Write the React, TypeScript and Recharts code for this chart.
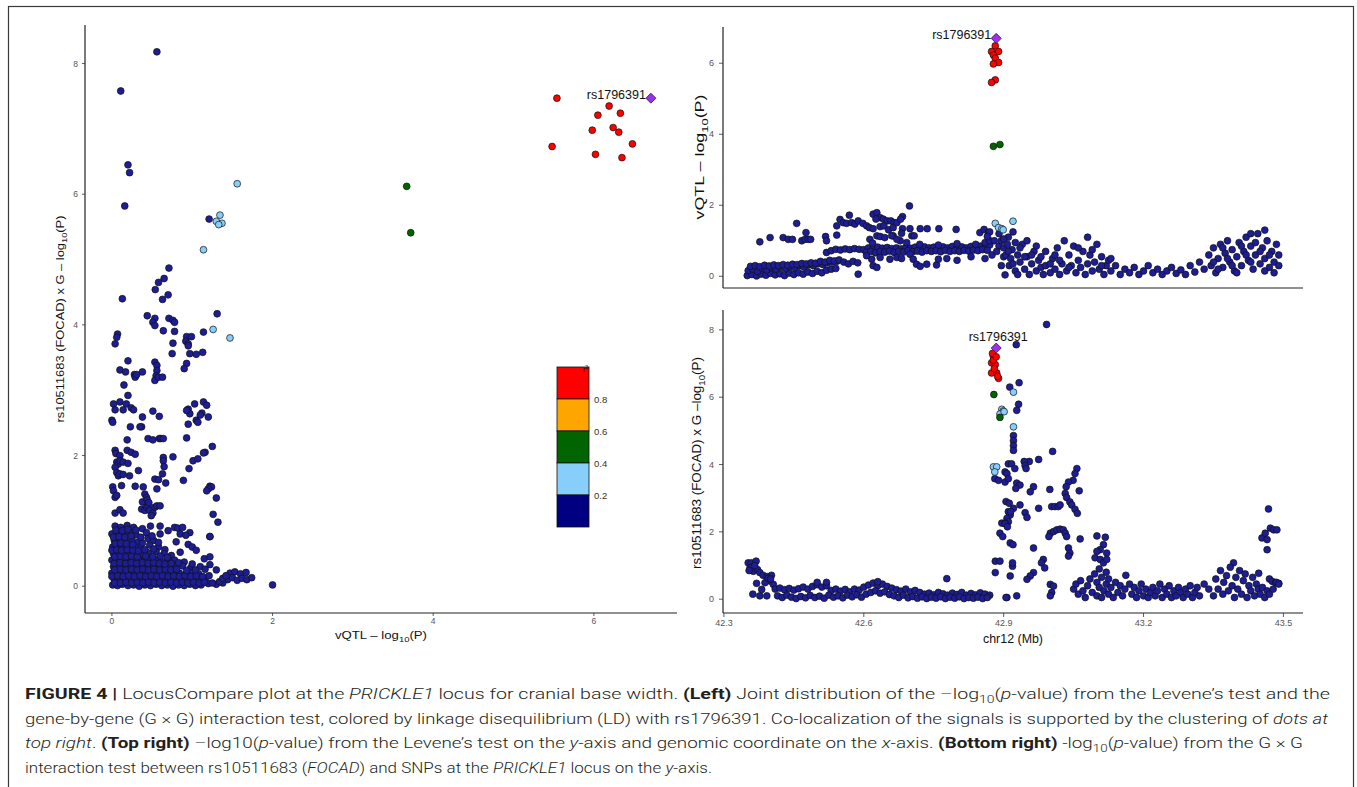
import React from 'react';
import { ScatterChart, Scatter, XAxis, YAxis } from 'recharts';

type P = [number, number];

// ---------- colours / legend ----------
const LD_COLORS = ['#000080', '#87CEFA', '#006400', '#FFA500', '#FF0000'];
const LD_LABELS = ['0.8', '0.6', '0.4', '0.2'];
const LEAD_COLOR = '#9B30F0';
const LEAD_NAME = 'rs1796391';

// ---------- left panel (x: vQTL -log10P, y: GxG -log10P) ----------
const LEFT_X_TICKS = [0, 2, 4, 6];
const LEFT_Y_TICKS = [0, 2, 4, 6, 8];
const LEFT_LEAD: P[] = [[6.71, 7.47]];
const LEFT_RED: P[] = [[5.54, 7.47], [6.19, 7.35], [6.33, 7.24], [6.05, 7.21], [5.98, 6.98], [6.24, 7.02], [6.31, 6.95], [6.48, 6.77], [5.48, 6.73], [6.02, 6.61], [6.35, 6.56]];
const LEFT_GREEN: P[] = [[3.67, 6.12], [3.72, 5.41]];
const LEFT_LIGHTBLUE: P[] = [[1.56, 6.16], [1.345, 5.68], [1.3, 5.585], [1.37, 5.555], [1.33, 5.535], [1.14, 5.15], [1.26, 3.93], [1.47, 3.8]];
const LEFT_BLUE: P[] = [
  [0.56, 8.18], [0.11, 7.58], [0.2, 6.45], [0.22, 6.33], [0.16, 5.82], [1.21, 5.62], [0.71, 4.87], [0.65, 4.71], [0.58, 4.65], [0.54, 4.54], [0.7, 4.46], [0.63, 4.39], [0.13, 4.4], [1.31, 4.17], [0.44, 4.14], [0.535, 4.1], [0.71, 4.1], [0.76, 4.07],
  [0.51, 4.04], [0.535, 3.99], [0.64, 3.91], [0.78, 4.04], [0.78, 3.9], [0.93, 3.82], [0.99, 3.82], [1.14, 3.89], [0.92, 3.75], [0.95, 3.71], [0.76, 3.72], [0.75, 3.56], [0.97, 3.56], [1.05, 3.55], [1.13, 3.58], [0.95, 3.68], [0.93, 3.41], [0.9, 3.33], [0.07, 3.86], [0.06, 3.81], [0.04, 3.71], [0.2, 3.45], [0.1, 3.31], [0.17, 3.28], [0.28, 3.24], [0.29, 3.2], [0.31, 3.24], [0.38, 3.28], [0.535, 3.43], [0.56, 3.38], [0.56, 3.3], [0.55, 3.22], [0.535, 3.15], [0.58, 3.2], [0.63, 3.2], [0.15, 3.08], [0.2, 2.92],
  [0.02, 2.79], [0.04, 2.7], [0.1, 2.82], [0.18, 2.79], [0.24, 2.73], [0.27, 2.7], [0.14, 2.7], [0.38, 2.59], [0.37, 2.44], [0.35, 2.44], [0.23, 2.44], [0.0, 2.54], [0.01, 2.51], [0.51, 2.68], [0.59, 2.6], [0.95, 2.71], [0.97, 2.64], [0.93, 2.69], [1.03, 2.79], [1.14, 2.82], [1.18, 2.77], [1.12, 2.65], [1.05, 2.54], [1.07, 2.51], [1.2, 2.59], [0.95, 2.48], [1.1, 2.62],
  [0.45, 2.26], [0.51, 2.24], [0.59, 2.26], [0.61, 2.26], [0.64, 2.26], [0.93, 2.27], [1.25, 2.14], [1.16, 2.05], [1.14, 2.04], [0.19, 2.24],
  [0.04, 2.08], [0.05, 2.03], [0.1, 2.0], [0.06, 1.9], [0.08, 1.87], [0.1, 1.92], [0.14, 1.9], [0.2, 1.88], [0.19, 2.08], [0.24, 2.05], [0.29, 2.02], [0.33, 1.77], [0.22, 1.69], [0.04, 1.82], [0.06, 1.74], [0.08, 1.69], [0.1, 1.72], [0.64, 1.97], [0.64, 1.92], [0.65, 1.83], [0.63, 1.72], [0.76, 1.98], [1.01, 1.92], [1.07, 1.95], [0.96, 1.8], [0.89, 1.62], [0.535, 1.64], [0.67, 1.58], [0.56, 1.49], [0.58, 1.63],
  [0.01, 1.52], [0.02, 1.46], [0.04, 1.36], [0.06, 1.39], [0.12, 1.54], [0.14, 1.71], [0.29, 1.53], [0.39, 1.52], [0.41, 1.41], [0.43, 1.36], [0.38, 1.29], [0.37, 1.18], [0.41, 1.16], [0.43, 1.21], [0.45, 1.23], [0.47, 1.16], [0.51, 1.12], [0.49, 1.08], [0.535, 1.21], [0.56, 1.23], [0.6, 1.23], [1.22, 1.53], [1.24, 1.52], [1.2, 1.49], [1.18, 1.46], [1.3, 1.35], [1.26, 1.1], [1.32, 0.98], [1.22, 0.76], [0.04, 1.12], [0.1, 1.17], [0.14, 1.12], [0.44, 1.32], [0.46, 1.28],
  [0.04, 0.92], [0.11, 0.9], [0.19, 0.93], [0.27, 0.9], [0.38, 0.88], [0.48, 0.92], [0.78, 0.9], [0.82, 0.89], [0.88, 0.9], [0.97, 0.82], [0.6, 0.92],
  [0.0, 0.8], [0.07, 0.81], [0.14, 0.79], [0.22, 0.82], [0.3, 0.79], [0.43, 0.82], [0.6, 0.8], [0.7, 0.85], [0.85, 0.8], [0.92, 0.78], [1.22, 0.76],
  [0.03, 0.7], [0.1, 0.71], [0.17, 0.69], [0.25, 0.72], [0.33, 0.68], [0.45, 0.73], [0.52, 0.7], [0.8, 0.68], [0.95, 0.64],
  [0.01, 0.6], [0.08, 0.61], [0.15, 0.59], [0.22, 0.62], [0.29, 0.6], [0.36, 0.58], [0.47, 0.63], [0.58, 0.6], [0.66, 0.56], [1.0, 0.6], [1.05, 0.55],
  [0.02, 0.5], [0.09, 0.51], [0.16, 0.49], [0.23, 0.52], [0.3, 0.5], [0.38, 0.48], [0.46, 0.51], [0.55, 0.53], [0.65, 0.5], [0.74, 0.47], [0.85, 0.52],
  [0.0, 0.4], [0.06, 0.41], [0.13, 0.39], [0.2, 0.42], [0.27, 0.4], [0.34, 0.41], [0.41, 0.39], [0.48, 0.42], [0.55, 0.4], [0.62, 0.38], [0.7, 0.41], [0.78, 0.4], [0.9, 0.37], [1.15, 0.42], [1.22, 0.45],
  [0.02, 0.3], [0.09, 0.31], [0.16, 0.29], [0.23, 0.32], [0.3, 0.3], [0.37, 0.31], [0.44, 0.29], [0.51, 0.32], [0.58, 0.3], [0.65, 0.31], [0.72, 0.29], [0.79, 0.3], [0.88, 0.31], [0.98, 0.28], [1.1, 0.3], [1.22, 0.33], [1.3, 0.25],
  [0.0, 0.2], [0.07, 0.21], [0.14, 0.19], [0.21, 0.22], [0.28, 0.2], [0.35, 0.21], [0.42, 0.19], [0.49, 0.22], [0.56, 0.2], [0.63, 0.21], [0.7, 0.19], [0.77, 0.22], [0.84, 0.2], [0.92, 0.18], [1.0, 0.21], [1.08, 0.19], [1.47, 0.2], [1.53, 0.22], [1.6, 0.19], [1.67, 0.21],
  [0.03, 0.1], [0.1, 0.11], [0.17, 0.09], [0.24, 0.12], [0.31, 0.1], [0.38, 0.11], [0.45, 0.09], [0.52, 0.12], [0.59, 0.1], [0.66, 0.11], [0.73, 0.09], [0.8, 0.12], [0.87, 0.1], [0.94, 0.11], [1.01, 0.09], [1.09, 0.12], [1.16, 0.1], [1.44, 0.1], [1.5, 0.13], [1.56, 0.09], [1.62, 0.12], [1.68, 0.1], [1.74, 0.13],
  [0.01, 0.02], [0.07, 0.01], [0.13, 0.03], [0.2, 0.01], [0.27, 0.02], [0.34, 0.0], [0.41, 0.02], [0.48, 0.01], [0.55, 0.03], [0.62, 0.01], [0.69, 0.02], [0.76, 0.0], [0.83, 0.02], [0.9, 0.01], [0.97, 0.03], [1.04, 0.01], [1.11, 0.02], [1.2, 0.04], [1.3, 0.03], [1.38, 0.05], [2.0, 0.02],
];
// second layer of the dense clump near the origin
const LEFT_BLUE_DENSE: P[] = [
  [0.035, 0.05], [0.105, 0.05], [0.175, 0.06], [0.245, 0.05], [0.315, 0.06], [0.385, 0.05], [0.455, 0.06], [0.525, 0.05], [0.595, 0.06], [0.665, 0.05], [0.735, 0.06], [0.805, 0.05], [0.875, 0.06], [0.945, 0.05], [1.015, 0.06], [1.085, 0.05], [1.15, 0.06], [1.25, 0.05], [1.34, 0.07],
  [0.0, 0.15], [0.07, 0.16], [0.14, 0.15], [0.21, 0.16], [0.28, 0.15], [0.35, 0.16], [0.42, 0.15], [0.49, 0.16], [0.56, 0.15], [0.63, 0.16], [0.7, 0.15], [0.77, 0.16], [0.84, 0.15], [0.91, 0.16], [0.98, 0.15], [1.05, 0.16], [1.13, 0.15], [1.21, 0.16], [1.38, 0.12], [1.42, 0.16],
  [0.035, 0.25], [0.105, 0.26], [0.175, 0.25], [0.245, 0.26], [0.315, 0.25], [0.385, 0.26], [0.455, 0.25], [0.525, 0.26], [0.595, 0.25], [0.665, 0.26], [0.735, 0.25], [0.805, 0.26], [0.93, 0.24], [1.04, 0.25], [1.16, 0.26],
  [0.03, 0.35], [0.1, 0.36], [0.17, 0.35], [0.24, 0.36], [0.31, 0.35], [0.38, 0.36], [0.45, 0.35], [0.52, 0.36], [0.59, 0.35], [0.66, 0.34], [0.74, 0.35], [0.83, 0.36], [1.0, 0.34],
  [0.035, 0.45], [0.105, 0.46], [0.175, 0.45], [0.245, 0.46], [0.315, 0.45], [0.42, 0.46], [0.51, 0.45], [0.6, 0.46], [0.69, 0.44],
  [0.0, 0.55], [0.06, 0.56], [0.12, 0.55], [0.19, 0.56], [0.26, 0.55], [0.33, 0.54], [0.41, 0.56], [0.52, 0.57],
  [0.04, 0.65], [0.11, 0.66], [0.18, 0.65], [0.26, 0.64], [0.38, 0.66], [0.58, 0.67],
  [0.02, 0.75], [0.09, 0.76], [0.16, 0.75], [0.24, 0.77], [0.36, 0.75], [0.5, 0.77],
  [0.05, 0.86], [0.13, 0.85], [0.2, 0.87], [0.3, 0.86],
];

// ---------- top right (x: position Mb, y: vQTL -log10P) ----------
const POS_TICKS = [42.3, 42.6, 42.9, 43.2, 43.5];
const TOP_Y_TICKS = [0, 2, 4, 6];
const TOP_LEAD: P[] = [[42.884, 6.7]];
const TOP_RED: P[] = [[42.882, 6.49], [42.889, 6.33], [42.874, 6.33], [42.878, 6.23], [42.882, 6.14], [42.889, 6.02], [42.878, 5.98], [42.882, 5.53], [42.874, 5.46]];
const TOP_GREEN: P[] = [[42.878, 3.66], [42.892, 3.71]];
const TOP_LIGHTBLUE: P[] = [[42.882, 1.49], [42.889, 1.37], [42.896, 1.34], [42.899, 1.31], [42.92, 1.55]];
const TOP_BLUE: P[] = [
  [42.35, 0.02], [42.36, 0.05], [42.37, 0.01], [42.38, 0.06], [42.39, 0.03], [42.4, 0.08], [42.41, 0.04], [42.42, 0.07], [42.43, 0.02], [42.44, 0.09], [42.45, 0.05], [42.46, 0.1], [42.47, 0.06], [42.48, 0.12], [42.49, 0.08], [42.5, 0.14], [42.51, 0.1], [42.52, 0.17], [42.53, 0.2], [42.54, 0.22],
  [42.352, 0.16], [42.362, 0.2], [42.372, 0.14], [42.382, 0.22], [42.392, 0.18], [42.402, 0.24], [42.412, 0.2], [42.422, 0.26], [42.432, 0.21], [42.442, 0.27], [42.452, 0.24], [42.462, 0.3], [42.472, 0.26], [42.482, 0.32], [42.492, 0.3], [42.502, 0.35], [42.512, 0.33], [42.522, 0.38], [42.532, 0.4], [42.542, 0.42],
  [42.357, 0.28], [42.367, 0.3], [42.377, 0.27], [42.387, 0.31], [42.397, 0.29], [42.407, 0.32], [42.417, 0.3], [42.427, 0.33], [42.437, 0.31], [42.447, 0.34], [42.457, 0.33], [42.467, 0.36], [42.477, 0.35], [42.487, 0.38], [42.497, 0.37], [42.507, 0.42], [42.517, 0.4], [42.527, 0.45], [42.537, 0.43], [42.547, 0.46], [42.557, 0.4], [42.567, 0.35], [42.577, 0.42], [42.587, 0.38],
  [42.52, 0.67], [42.53, 0.72], [42.54, 0.76], [42.55, 0.74], [42.56, 0.77], [42.57, 0.75], [42.58, 0.78], [42.59, 0.76], [42.6, 0.75], [42.61, 0.8], [42.62, 0.78], [42.63, 0.82], [42.64, 0.79], [42.65, 0.81], [42.66, 0.78], [42.67, 0.8], [42.68, 0.77], [42.69, 0.81], [42.7, 0.79], [42.71, 0.82], [42.72, 0.8], [42.73, 0.83], [42.74, 0.8], [42.75, 0.82], [42.76, 0.79], [42.77, 0.83], [42.78, 0.8], [42.79, 0.84], [42.8, 0.81], [42.81, 0.83], [42.82, 0.8], [42.83, 0.84], [42.84, 0.82], [42.85, 0.85], [42.86, 0.83], [42.87, 0.88],
  [42.605, 0.68], [42.615, 0.7], [42.625, 0.66], [42.635, 0.7], [42.645, 0.68], [42.655, 0.71], [42.665, 0.67], [42.675, 0.7], [42.685, 0.68], [42.695, 0.72], [42.705, 0.69], [42.715, 0.71], [42.725, 0.68], [42.735, 0.72], [42.745, 0.7], [42.755, 0.72], [42.765, 0.69], [42.775, 0.73], [42.785, 0.7], [42.795, 0.72], [42.805, 0.7], [42.815, 0.73], [42.825, 0.71], [42.835, 0.74], [42.845, 0.72], [42.855, 0.75], [42.865, 0.73],
  [42.72, 0.9], [42.76, 0.88], [42.8, 0.92], [42.84, 0.9], [42.86, 0.95], [42.87, 1.0],
  [42.617, 0.48], [42.606, 0.58], [42.635, 0.53], [42.656, 0.48], [42.671, 0.53], [42.681, 0.5], [42.699, 0.62], [42.706, 0.48], [42.713, 0.34], [42.721, 0.28], [42.735, 0.34], [42.756, 0.32], [42.778, 0.5], [42.76, 0.48], [42.62, 0.3], [42.628, 0.25], [42.588, 0.06], [42.8, 0.45], [42.83, 0.55], [42.86, 0.5], [42.875, 0.6],
  [42.377, 0.97], [42.399, 1.09], [42.427, 1.09], [42.438, 1.04], [42.447, 1.04], [42.456, 1.49], [42.467, 1.0], [42.474, 1.04], [42.481, 1.04], [42.486, 1.04], [42.476, 1.23], [42.518, 1.12], [42.52, 1.0], [42.542, 1.16],
  [42.542, 1.42], [42.549, 1.6], [42.556, 1.51], [42.563, 1.49], [42.574, 1.51], [42.581, 1.47], [42.588, 1.56], [42.598, 1.49], [42.606, 1.42], [42.569, 1.72],
  [42.62, 1.75], [42.628, 1.79], [42.635, 1.65], [42.642, 1.61], [42.65, 1.56], [42.658, 1.56], [42.665, 1.51], [42.626, 1.61],
  [42.612, 1.37], [42.62, 1.34], [42.635, 1.4], [42.643, 1.42], [42.653, 1.31], [42.663, 1.37], [42.671, 1.51], [42.683, 1.68], [42.679, 1.61], [42.683, 1.34], [42.681, 1.21], [42.663, 1.14], [42.678, 1.0],
  [42.613, 1.04], [42.619, 0.93], [42.628, 1.14], [42.635, 1.12], [42.645, 1.09], [42.66, 1.14], [42.671, 1.04], [42.692, 0.95],
  [42.699, 1.34], [42.703, 1.14], [42.708, 1.14], [42.721, 1.34], [42.736, 1.34], [42.761, 1.34], [42.798, 1.32], [42.698, 1.98],
  [42.849, 1.23], [42.858, 1.32], [42.867, 1.23], [42.87, 1.25], [42.865, 1.12], [42.88, 1.0], [42.89, 0.85], [42.885, 0.7], [42.9, 0.55],
  [42.89, 1.2], [42.895, 1.0], [42.9, 0.8], [42.903, 0.04], [42.905, 0.6], [42.908, 0.9], [42.91, 1.1], [42.912, 0.3], [42.915, 0.5], [42.918, 0.75], [42.92, 1.25], [42.925, 0.15], [42.93, 0.6], [42.935, 0.4], [42.94, 0.9], [42.945, 0.2], [42.95, 0.55], [42.955, 0.05], [42.96, 0.35], [42.965, 0.7], [42.97, 0.15], [42.975, 0.45], [42.98, 0.25], [42.985, 0.05], [42.99, 0.3], [43.0, 0.1], [43.005, 0.5], [43.01, 0.2], [43.015, 0.8], [43.02, 0.05], [43.025, 0.35], [43.03, 1.0], [43.035, 0.15], [43.04, 0.6], [43.045, 0.3], [43.05, 0.85], [43.055, 0.1], [43.06, 0.45], [43.065, 0.25], [43.07, 0.7], [43.075, 0.05], [43.08, 0.35], [43.085, 0.6], [43.09, 0.15], [43.095, 0.4], [43.1, 0.9], [43.105, 0.2], [43.11, 0.55], [43.115, 0.05], [43.12, 0.3], [43.125, 0.45], [43.13, 0.15], [43.14, 0.3], [43.15, 0.05], [43.16, 0.2], [43.17, 0.1], [43.18, 0.25], [43.19, 0.05], [43.2, 0.15], [43.21, 0.3], [43.22, 0.1], [43.23, 0.2], [43.24, 0.05], [43.25, 0.15], [43.26, 0.25], [43.27, 0.08], [43.28, 0.18], [43.29, 0.05], [43.3, 0.3], [43.31, 0.12], [43.32, 0.4], [43.33, 0.2],
  [42.895, 0.3], [42.9, 1.05], [42.91, 0.7], [42.92, 0.35], [42.925, 0.95], [42.93, 0.05], [42.935, 0.8], [42.945, 0.55], [42.95, 1.0], [42.96, 0.6], [42.97, 0.85], [42.98, 0.55], [42.99, 0.7], [43.0, 0.35], [43.01, 0.6], [43.02, 0.45], [43.04, 0.25], [43.06, 0.8], [43.08, 1.1], [43.09, 0.75], [43.11, 0.3], [43.13, 0.5],
  [43.34, 0.6], [43.345, 0.3], [43.35, 0.8], [43.355, 0.1], [43.36, 0.5], [43.365, 0.9], [43.37, 0.25], [43.375, 0.65], [43.38, 1.0], [43.385, 0.4], [43.39, 0.75], [43.395, 0.15], [43.4, 0.55], [43.405, 0.95], [43.41, 0.3], [43.415, 0.7], [43.42, 1.1], [43.425, 0.45], [43.43, 0.85], [43.435, 0.2], [43.44, 0.6], [43.445, 1.2], [43.45, 0.35], [43.455, 0.8], [43.46, 0.5], [43.465, 1.0], [43.47, 0.25], [43.475, 0.7], [43.48, 0.4], [43.485, 0.9], [43.49, 0.3],
  [43.35, 0.4], [43.36, 0.2], [43.37, 0.8], [43.38, 0.5], [43.39, 0.3], [43.4, 0.1], [43.41, 0.85], [43.42, 0.6], [43.43, 0.4], [43.44, 0.95], [43.45, 0.7], [43.46, 0.15], [43.47, 0.6], [43.48, 0.1], [43.49, 0.6], [43.43, 1.2], [43.46, 1.3],
];

// ---------- bottom right (x: position Mb, y: GxG -log10P) ----------
const BOT_Y_TICKS = [0, 2, 4, 6, 8];
const BOT_LEAD: P[] = [[42.884, 7.46]];
const BOT_RED: P[] = [[42.878, 7.21], [42.874, 7.02], [42.882, 6.97], [42.874, 6.72], [42.885, 6.72], [42.889, 6.56], [42.878, 7.1], [42.887, 6.62], [42.88, 6.85], [42.876, 7.3], [42.884, 7.2]];
const BOT_GREEN: P[] = [[42.879, 6.08], [42.892, 5.4]];
const BOT_LIGHTBLUE: P[] = [[42.896, 5.64], [42.899, 5.59], [42.892, 5.5], [42.878, 3.93], [42.885, 3.93], [42.881, 3.78], [42.921, 6.15], [42.921, 5.12], [42.901, 5.57]];
const BOT_BLUE: P[] = [
  [42.352, 1.08], [42.359, 1.08], [42.369, 1.13], [42.356, 0.93], [42.363, 0.83], [42.372, 0.88], [42.377, 0.79], [42.384, 0.71], [42.393, 0.67], [42.402, 0.71], [42.399, 0.54], [42.406, 0.44], [42.388, 0.49], [42.37, 0.47], [42.381, 0.29], [42.362, 0.15], [42.377, 0.1], [42.392, 0.1], [42.36, 0.95], [42.366, 1.0], [42.354, 0.85], [42.395, 0.62], [42.4, 0.6],
  [42.41, 0.3], [42.42, 0.33], [42.43, 0.28], [42.44, 0.32], [42.45, 0.27], [42.46, 0.31], [42.47, 0.36], [42.48, 0.3], [42.49, 0.38], [42.5, 0.43], [42.51, 0.36], [42.52, 0.4], [42.53, 0.26], [42.54, 0.3], [42.55, 0.24], [42.56, 0.29], [42.57, 0.22], [42.58, 0.3], [42.59, 0.27], [42.6, 0.36], [42.61, 0.42], [42.62, 0.48], [42.63, 0.4], [42.64, 0.45], [42.65, 0.38], [42.66, 0.33], [42.67, 0.28], [42.68, 0.24], [42.69, 0.3], [42.7, 0.22], [42.71, 0.26], [42.72, 0.2], [42.73, 0.15], [42.74, 0.18], [42.75, 0.13], [42.76, 0.2], [42.77, 0.16], [42.78, 0.12], [42.79, 0.18], [42.8, 0.14], [42.81, 0.2], [42.82, 0.12], [42.83, 0.17], [42.84, 0.13], [42.85, 0.19], [42.86, 0.15], [42.87, 0.12],
  [42.415, 0.1], [42.425, 0.05], [42.435, 0.12], [42.445, 0.06], [42.455, 0.02], [42.465, 0.08], [42.475, 0.04], [42.485, 0.11], [42.495, 0.05], [42.505, 0.09], [42.515, 0.03], [42.525, 0.12], [42.535, 0.06], [42.545, 0.1], [42.555, 0.04], [42.565, 0.12], [42.575, 0.07], [42.585, 0.13], [42.595, 0.06], [42.605, 0.15], [42.615, 0.2], [42.625, 0.25], [42.635, 0.18], [42.645, 0.22], [42.655, 0.14], [42.665, 0.1], [42.675, 0.05], [42.685, 0.12], [42.695, 0.04], [42.705, 0.08], [42.715, 0.03], [42.725, 0.07], [42.735, 0.02], [42.745, 0.06], [42.755, 0.03], [42.765, 0.07], [42.775, 0.02], [42.785, 0.06], [42.795, 0.03], [42.805, 0.07], [42.815, 0.02], [42.825, 0.05], [42.835, 0.03], [42.845, 0.06], [42.855, 0.02], [42.865, 0.05],
  [42.778, 0.61], [42.5, 0.5], [42.52, 0.5], [42.63, 0.52],
  [42.881, 3.58], [42.889, 3.53], [42.903, 3.78], [42.907, 3.73], [42.91, 4.02], [42.903, 3.48], [42.91, 2.6], [42.914, 2.5], [42.907, 2.4], [42.91, 2.3], [42.896, 2.26], [42.903, 2.26], [42.892, 1.96], [42.898, 1.86], [42.882, 1.13], [42.892, 1.13], [42.882, 0.79], [42.907, 0.05], [42.914, 0.69], [42.914, 1.67],
  [42.992, 8.16], [42.927, 7.56], [42.933, 6.43], [42.913, 6.3], [42.932, 5.79], [42.928, 5.61], [42.921, 4.86], [42.921, 4.71], [42.921, 4.56], [42.921, 4.42], [43.005, 4.39], [42.975, 4.15], [42.955, 4.09], [42.944, 4.09], [42.946, 3.97], [42.948, 3.88], [42.917, 4.02], [42.924, 3.88], [42.91, 3.58], [42.928, 3.45], [42.935, 3.39], [42.926, 3.29], [42.964, 3.34], [42.957, 3.19], [42.999, 3.26],
  [43.057, 3.88], [43.053, 3.73], [43.049, 3.53], [43.039, 3.48], [43.034, 3.34], [43.032, 3.14], [43.035, 3.02], [43.042, 2.89], [43.046, 2.8], [43.053, 2.67], [43.058, 2.55], [43.062, 3.22], [43.003, 2.75], [43.01, 2.75], [43.017, 2.75], [43.021, 2.8], [42.975, 2.7], [42.946, 2.57], [42.95, 2.43], [42.935, 2.8], [42.921, 2.7], [42.915, 2.6], [42.903, 2.24], [42.905, 2.9], [42.912, 2.85], [42.908, 2.15],
  [42.964, 1.52], [42.92, 1.62], [43.0, 1.96], [42.997, 1.86], [43.007, 2.01], [43.014, 2.06], [43.021, 2.08], [43.028, 2.06], [43.032, 1.96], [43.035, 1.86], [43.039, 1.52], [43.042, 1.37], [43.039, 1.28], [43.064, 1.79], [42.985, 1.18], [42.981, 1.08], [42.988, 0.93], [42.964, 0.79], [42.957, 0.69], [42.95, 0.59], [42.919, 0.98], [42.919, 1.08],
  [43.0, 0.44], [43.007, 0.39], [43.003, 0.2], [43.0, 0.1], [42.928, 0.1], [42.905, 0.05],
  [43.1, 1.88], [43.118, 1.84], [43.114, 1.62], [43.107, 1.47], [43.1, 1.42], [43.096, 1.23], [43.107, 1.18], [43.114, 1.08], [43.121, 1.37], [43.121, 1.18], [43.162, 0.71], [43.393, 1.08],
  [43.468, 2.68], [43.454, 1.82], [43.465, 1.77], [43.472, 2.11], [43.479, 2.06], [43.486, 2.06], [43.465, 1.47], [43.461, 1.96], [43.447, 0.77], [43.47, 0.6], [43.476, 0.53], [43.483, 0.49], [43.49, 0.47],
  [43.05, 0.3], [43.055, 0.45], [43.06, 0.15], [43.065, 0.55], [43.07, 0.25], [43.075, 0.05], [43.08, 0.4], [43.085, 0.6], [43.09, 0.2], [43.095, 0.75], [43.1, 0.1], [43.1, 0.5], [43.105, 0.35], [43.105, 0.9], [43.11, 0.05], [43.11, 0.65], [43.115, 0.25], [43.12, 0.8], [43.12, 0.45], [43.125, 0.15], [43.125, 0.6], [43.13, 0.35], [43.135, 0.05], [43.14, 0.5], [43.145, 0.2], [43.15, 0.4], [43.155, 0.1], [43.16, 0.3], [43.17, 0.45], [43.175, 0.15], [43.18, 0.35], [43.185, 0.05], [43.19, 0.25], [43.195, 0.45], [43.2, 0.1], [43.205, 0.3], [43.21, 0.05], [43.215, 0.2], [43.22, 0.35], [43.225, 0.1], [43.23, 0.25], [43.235, 0.45], [43.24, 0.05], [43.245, 0.3], [43.25, 0.15], [43.255, 0.4], [43.26, 0.05], [43.265, 0.25], [43.27, 0.1], [43.275, 0.35], [43.28, 0.2], [43.285, 0.05], [43.29, 0.3], [43.295, 0.15], [43.3, 0.4], [43.305, 0.05], [43.31, 0.2], [43.315, 0.35], [43.32, 0.1], [43.33, 0.45], [43.34, 0.3], [43.35, 0.1],
  [43.355, 0.6], [43.36, 0.3], [43.365, 0.85], [43.37, 0.15], [43.372, 0.5], [43.378, 0.7], [43.382, 0.25], [43.386, 0.95], [43.39, 0.4], [43.395, 0.05], [43.398, 0.65], [43.402, 0.3], [43.406, 0.85], [43.41, 0.15], [43.414, 0.55], [43.418, 0.75], [43.422, 0.05], [43.426, 0.4], [43.43, 0.25], [43.434, 0.65], [43.438, 0.1], [43.442, 0.45], [43.446, 0.3], [43.45, 0.15], [43.455, 0.35], [43.46, 0.05], [43.465, 0.25], [43.47, 0.15], [43.478, 0.3], [43.485, 0.5], [43.49, 0.45],
];

// ---------- helpers ----------
const toData = (arr: P[]) => arr.map(([x, y]) => ({ x, y }));
const FONT = '"Liberation Sans", Arial, Helvetica, sans-serif';
const BLUE_FILL = '#1d1d96';

const dot = (fill: string, r = 3.4) => (props: any) => (
  <circle cx={props.cx} cy={props.cy} r={r} fill={fill} stroke="#111" strokeWidth={0.7} />
);

const leadShape = (mode: 'left' | 'top') => (props: any) => {
  const { cx, cy } = props;
  const s = 5;
  return (
    <g>
      <polygon points={`${cx},${cy - s} ${cx + s},${cy} ${cx},${cy + s} ${cx - s},${cy}`} fill={LEAD_COLOR} stroke="#222" strokeWidth={0.8} />
      {mode === 'left' ? (
        <text x={cx - 5} y={cy + 0.5} textAnchor="end" fontSize={12.5} fill="#111" fontFamily={FONT}>{LEAD_NAME}</text>
      ) : (
        <text x={cx + 2} y={cy - 7} textAnchor="middle" fontSize={12.5} fill="#111" fontFamily={FONT}>{LEAD_NAME}</text>
      )}
    </g>
  );
};

const AXIS_LINE = { stroke: '#222', strokeWidth: 1.2 };
const TICK_LINE = { stroke: '#333', strokeWidth: 0.8 };

function panelSeries(blue: P[][], lb: P[], green: P[], red: P[], lead: P[], mode: 'left' | 'top') {
  return [
    ...blue.map((b, i) => <Scatter key={'b' + i} data={toData(b)} shape={dot(BLUE_FILL)} isAnimationActive={false} />),
    <Scatter key="lb" data={toData(lb)} shape={dot(LD_COLORS[1])} isAnimationActive={false} />,
    <Scatter key="g" data={toData(green)} shape={dot(LD_COLORS[2])} isAnimationActive={false} />,
    <Scatter key="r" data={toData(red)} shape={dot(LD_COLORS[4])} isAnimationActive={false} />,
    <Scatter key="l" data={toData(lead)} shape={leadShape(mode)} isAnimationActive={false} />,
  ];
}

function Title({ x, y, len, size, rot, children }: any) {
  const by = y + size * 0.35;
  return (
    <text
      x={x}
      y={by}
      textAnchor="middle"
      fontSize={size}
      fill="#111"
      fontFamily={FONT}
      textLength={len}
      lengthAdjust="spacingAndGlyphs"
      transform={rot ? `rotate(-90 ${x} ${y})` : undefined}
    >
      {children}
    </text>
  );
}

const sub = (size: number, t: string) => [
  <tspan key="s" dy={size * 0.28} fontSize={size * 0.72}>{t}</tspan>,
  <tspan key="e" dy={-size * 0.28}>(P)</tspan>,
];

const CAP_SIZE = 15.5;
const capSub = (t: string) => [
  <tspan key="a" dy={3.5} fontSize={11}>{t}</tspan>,
  <tspan key="b" dy={-3.5}>(</tspan>,
];

export default function App() {
  const xTick = { fontSize: 8.5, fill: '#555', fontFamily: FONT };
  const rTick = { fontSize: 9, fill: '#555', fontFamily: FONT };
  return (
    <div style={{ position: 'absolute', left: 0, top: 0, width: 1357, height: 787, background: '#fff', overflow: 'hidden', fontFamily: FONT }}>
      {/* Left panel */}
      <div style={{ position: 'absolute', left: 0, top: 0 }}>
        <ScatterChart width={700} height={650} margin={{ top: 25, right: 23, bottom: 7, left: 45 }}>
          <XAxis type="number" dataKey="x" domain={[-0.335, 7.035]} ticks={LEFT_X_TICKS} allowDataOverflow height={30} tickSize={3} tickMargin={2} axisLine={AXIS_LINE} tickLine={TICK_LINE} tick={xTick} />
          <YAxis type="number" dataKey="y" domain={[-0.41, 8.59]} ticks={LEFT_Y_TICKS} allowDataOverflow width={40} tickSize={3} tickMargin={4} axisLine={AXIS_LINE} tickLine={TICK_LINE} tick={xTick} />
          {panelSeries([LEFT_BLUE, LEFT_BLUE_DENSE], LEFT_LIGHTBLUE, LEFT_GREEN, LEFT_RED, LEFT_LEAD, 'left')}
        </ScatterChart>
      </div>

      {/* Top right panel */}
      <div style={{ position: 'absolute', left: 660, top: 0 }}>
        <ScatterChart width={680} height={300} margin={{ top: 27, right: 37, bottom: 2, left: 33 }}>
          <XAxis type="number" dataKey="x" domain={[42.298, 43.542]} ticks={POS_TICKS} allowDataOverflow height={10} tickSize={4} axisLine={AXIS_LINE} tickLine={TICK_LINE} tick={false} />
          <YAxis type="number" dataKey="y" domain={[-0.33, 7.02]} ticks={TOP_Y_TICKS} allowDataOverflow width={30} tickSize={4} tickMargin={5} axisLine={AXIS_LINE} tickLine={TICK_LINE} tick={rTick} />
          {panelSeries([TOP_BLUE], TOP_LIGHTBLUE, TOP_GREEN, TOP_RED, TOP_LEAD, 'left')}
        </ScatterChart>
      </div>

      {/* Bottom right panel */}
      <div style={{ position: 'absolute', left: 660, top: 300 }}>
        <ScatterChart width={680} height={350} margin={{ top: 10, right: 37, bottom: 7, left: 33 }}>
          <XAxis type="number" dataKey="x" domain={[42.298, 43.542]} ticks={POS_TICKS} allowDataOverflow height={30} tickSize={4} tickMargin={3} axisLine={AXIS_LINE} tickLine={TICK_LINE} tick={rTick} tickFormatter={(v: number) => v.toFixed(1)} />
          <YAxis type="number" dataKey="y" domain={[-0.41, 8.59]} ticks={BOT_Y_TICKS} allowDataOverflow width={30} tickSize={4} tickMargin={5} axisLine={AXIS_LINE} tickLine={TICK_LINE} tick={rTick} />
          {panelSeries([BOT_BLUE], BOT_LIGHTBLUE, BOT_GREEN, BOT_RED, BOT_LEAD, 'top')}
        </ScatterChart>
      </div>

      {/* Overlay: titles, legend, caption, frame */}
      <svg width={1357} height={787} style={{ position: 'absolute', left: 0, top: 0, pointerEvents: 'none' }}>
        <rect x={8.5} y={6.5} width={1345} height={800} fill="none" stroke="#3a3a3a" strokeWidth={1.2} />

        {/* axis titles */}
        <Title x={381} y={635} len={92} size={11}>vQTL – log{sub(11, '10')}</Title>
        <Title x={60} y={319} len={207} size={11} rot>rs10511683  (FOCAD) x G – log{sub(11, '10')}</Title>
        <Title x={700} y={157} len={125} size={12.5} rot>vQTL – log{sub(12.5, '10')}</Title>
        <Title x={697} y={463} len={212} size={12.5} rot>rs10511683  (FOCAD) x G –log{sub(12.5, '10')}</Title>
        <Title x={1013} y={639} len={60} size={12}>chr12 (Mb)</Title>

        {/* LD legend */}
        {LD_COLORS.slice().reverse().map((c, i) => (
          <rect key={c} x={557} y={367 + i * 32} width={32} height={32} fill={c} stroke="#111" strokeWidth={0.8} />
        ))}
        {LD_LABELS.map((l, i) => (
          <text key={l} x={594} y={399 + i * 32 + 3.5} fontSize={9.5} fill="#333" fontFamily={FONT}>{l}</text>
        ))}
        <text x={583} y={372} fontSize={7} fill="#111" fontFamily={FONT}>r<tspan dy={-3} fontSize={5}>2</tspan></text>

        {/* caption */}
        <g fontFamily="Roboto, 'Liberation Sans', sans-serif" fontWeight={300} fontSize={CAP_SIZE} fill="#231f20">
          <text x={25} y={699} textLength={1305} lengthAdjust="spacingAndGlyphs">
            <tspan fontWeight={700}>FIGURE 4 | </tspan>LocusCompare plot at the <tspan fontStyle="italic">PRICKLE1</tspan> locus for cranial base width. <tspan fontWeight={700}>(Left)</tspan> Joint distribution of the –log{capSub('10')}<tspan fontStyle="italic">p</tspan>-value) from the Levene’s test and the
          </text>
          <text x={25} y={723.5} textLength={1303} lengthAdjust="spacingAndGlyphs">
            gene-by-gene (G × G) interaction test, colored by linkage disequilibrium (LD) with rs1796391. Co-localization of the signals is supported by the clustering of <tspan fontStyle="italic">dots at</tspan>
          </text>
          <text x={25} y={748} textLength={1278} lengthAdjust="spacingAndGlyphs">
            <tspan fontStyle="italic">top right</tspan>. <tspan fontWeight={700}>(Top right)</tspan> –log10(<tspan fontStyle="italic">p</tspan>-value) from the Levene’s test on the <tspan fontStyle="italic">y</tspan>-axis and genomic coordinate on the <tspan fontStyle="italic">x</tspan>-axis. <tspan fontWeight={700}>(Bottom right)</tspan> -log{capSub('10')}<tspan fontStyle="italic">p</tspan>-value) from the G × G
          </text>
          <text x={25} y={772.5} textLength={687} lengthAdjust="spacingAndGlyphs">
            interaction test between rs10511683 (<tspan fontStyle="italic">FOCAD</tspan>) and SNPs at the <tspan fontStyle="italic">PRICKLE1</tspan> locus on the <tspan fontStyle="italic">y</tspan>-axis.
          </text>
        </g>
      </svg>
    </div>
  );
}
